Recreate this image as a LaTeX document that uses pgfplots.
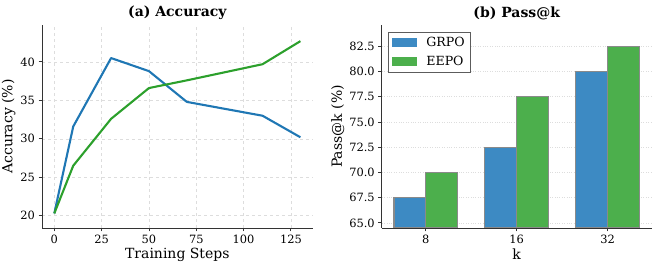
\documentclass[border=0pt]{standalone}
\usepackage{fontspec}
\setmainfont{DejaVu Serif}
\usepackage{pgfplots}
\pgfplotsset{compat=1.18}
\definecolor{lblue}{HTML}{1F77B4}
\definecolor{lgreen}{HTML}{2CA02C}
\definecolor{bblue}{HTML}{3D8AC3}
\definecolor{bgreen}{HTML}{4CAF4C}
\definecolor{spine}{HTML}{333333}
\definecolor{gridc}{HTML}{DDDDDD}
\definecolor{edgec}{HTML}{8A8A8A}
\pgfplotsset{
  common/.style={
    scale only axis,
    axis x line*=bottom, axis y line*=left,
    axis line style={spine, line width=0.9pt},
    tick style={spine, line width=0.9pt},
    tick align=outside,
    major tick length=3.5pt,
    /pgf/number format/assume math mode=true,
    tick label style={font=\fontsize{11.4}{13}\selectfont},
    label style={font=\fontsize{14}{16}\selectfont},
    title style={font=\fontsize{14}{16}\selectfont\bfseries, yshift=-4pt},
  }
}
\begin{document}
\begin{tikzpicture}
\useasboundingbox (0,0) rectangle (657pt,267pt);
\begin{axis}[common,
  at={(42pt,39pt)}, anchor=south west,
  width=270.7pt, height=203pt,
  xmin=-6.5, xmax=136.5, ymin=18.4, ymax=44.8,
  xtick={0,25,50,75,100,125}, ytick={20,25,30,35,40},
  grid=major, major grid style={gridc, dashed, line width=0.5pt},
  xlabel={Training Steps}, ylabel={Accuracy (\%)},
  title={(a) Accuracy},
  xlabel style={yshift=2pt}, ylabel style={yshift=-2pt},
]
\addplot[lblue, line width=2.1pt, line join=round] coordinates {(0,20.3) (10,31.6) (30,40.5) (50,38.8) (70,34.8) (110,33.0) (130,30.2)};
\addplot[lgreen, line width=2.1pt, line join=round] coordinates {(0,20.3) (10,26.5) (30,32.6) (50,36.6) (70,37.6) (110,39.7) (130,42.7)};
\end{axis}
\begin{axis}[common,
  at={(381.7pt,39pt)}, anchor=south west,
  width=270pt, height=203pt,
  xmin=-0.485, xmax=2.485, ymin=64.5, ymax=84.6,
  xtick={0,1,2}, xticklabels={8,16,32},
  ytick={65,67.5,70,72.5,75,77.5,80,82.5},
  yticklabel style={/pgf/number format/.cd, fixed, fixed zerofill, precision=1},
  ymajorgrids, major grid style={gridc, dotted, line width=0.5pt},
  xlabel={k}, ylabel={Pass@k (\%)},
  title={(b) Pass@k},
  xlabel style={yshift=2pt}, ylabel style={yshift=-2pt},
  ybar=0pt, bar width=0.35,
  legend style={at={(0.023,0.965)}, anchor=north west, draw=spine!80, line width=0.9pt,
    font=\fontsize{12.6}{14}\selectfont, inner xsep=4pt, inner ysep=3pt, row sep=4pt,
    /tikz/every odd column/.append style={column sep=7pt}},
  legend image code/.code={\draw[#1, draw=none] (0pt,-4.5pt) rectangle (25pt,4.5pt);},
  legend cell align=left,
]
\addplot[fill=bblue, draw=edgec, line width=1.1pt] coordinates {(0,67.5) (1,72.5) (2,80.0)};
\addplot[fill=bgreen, draw=edgec, line width=1.1pt] coordinates {(0,70.0) (1,77.5) (2,82.5)};
\legend{GRPO, EEPO}
\end{axis}
\end{tikzpicture}
\end{document}
